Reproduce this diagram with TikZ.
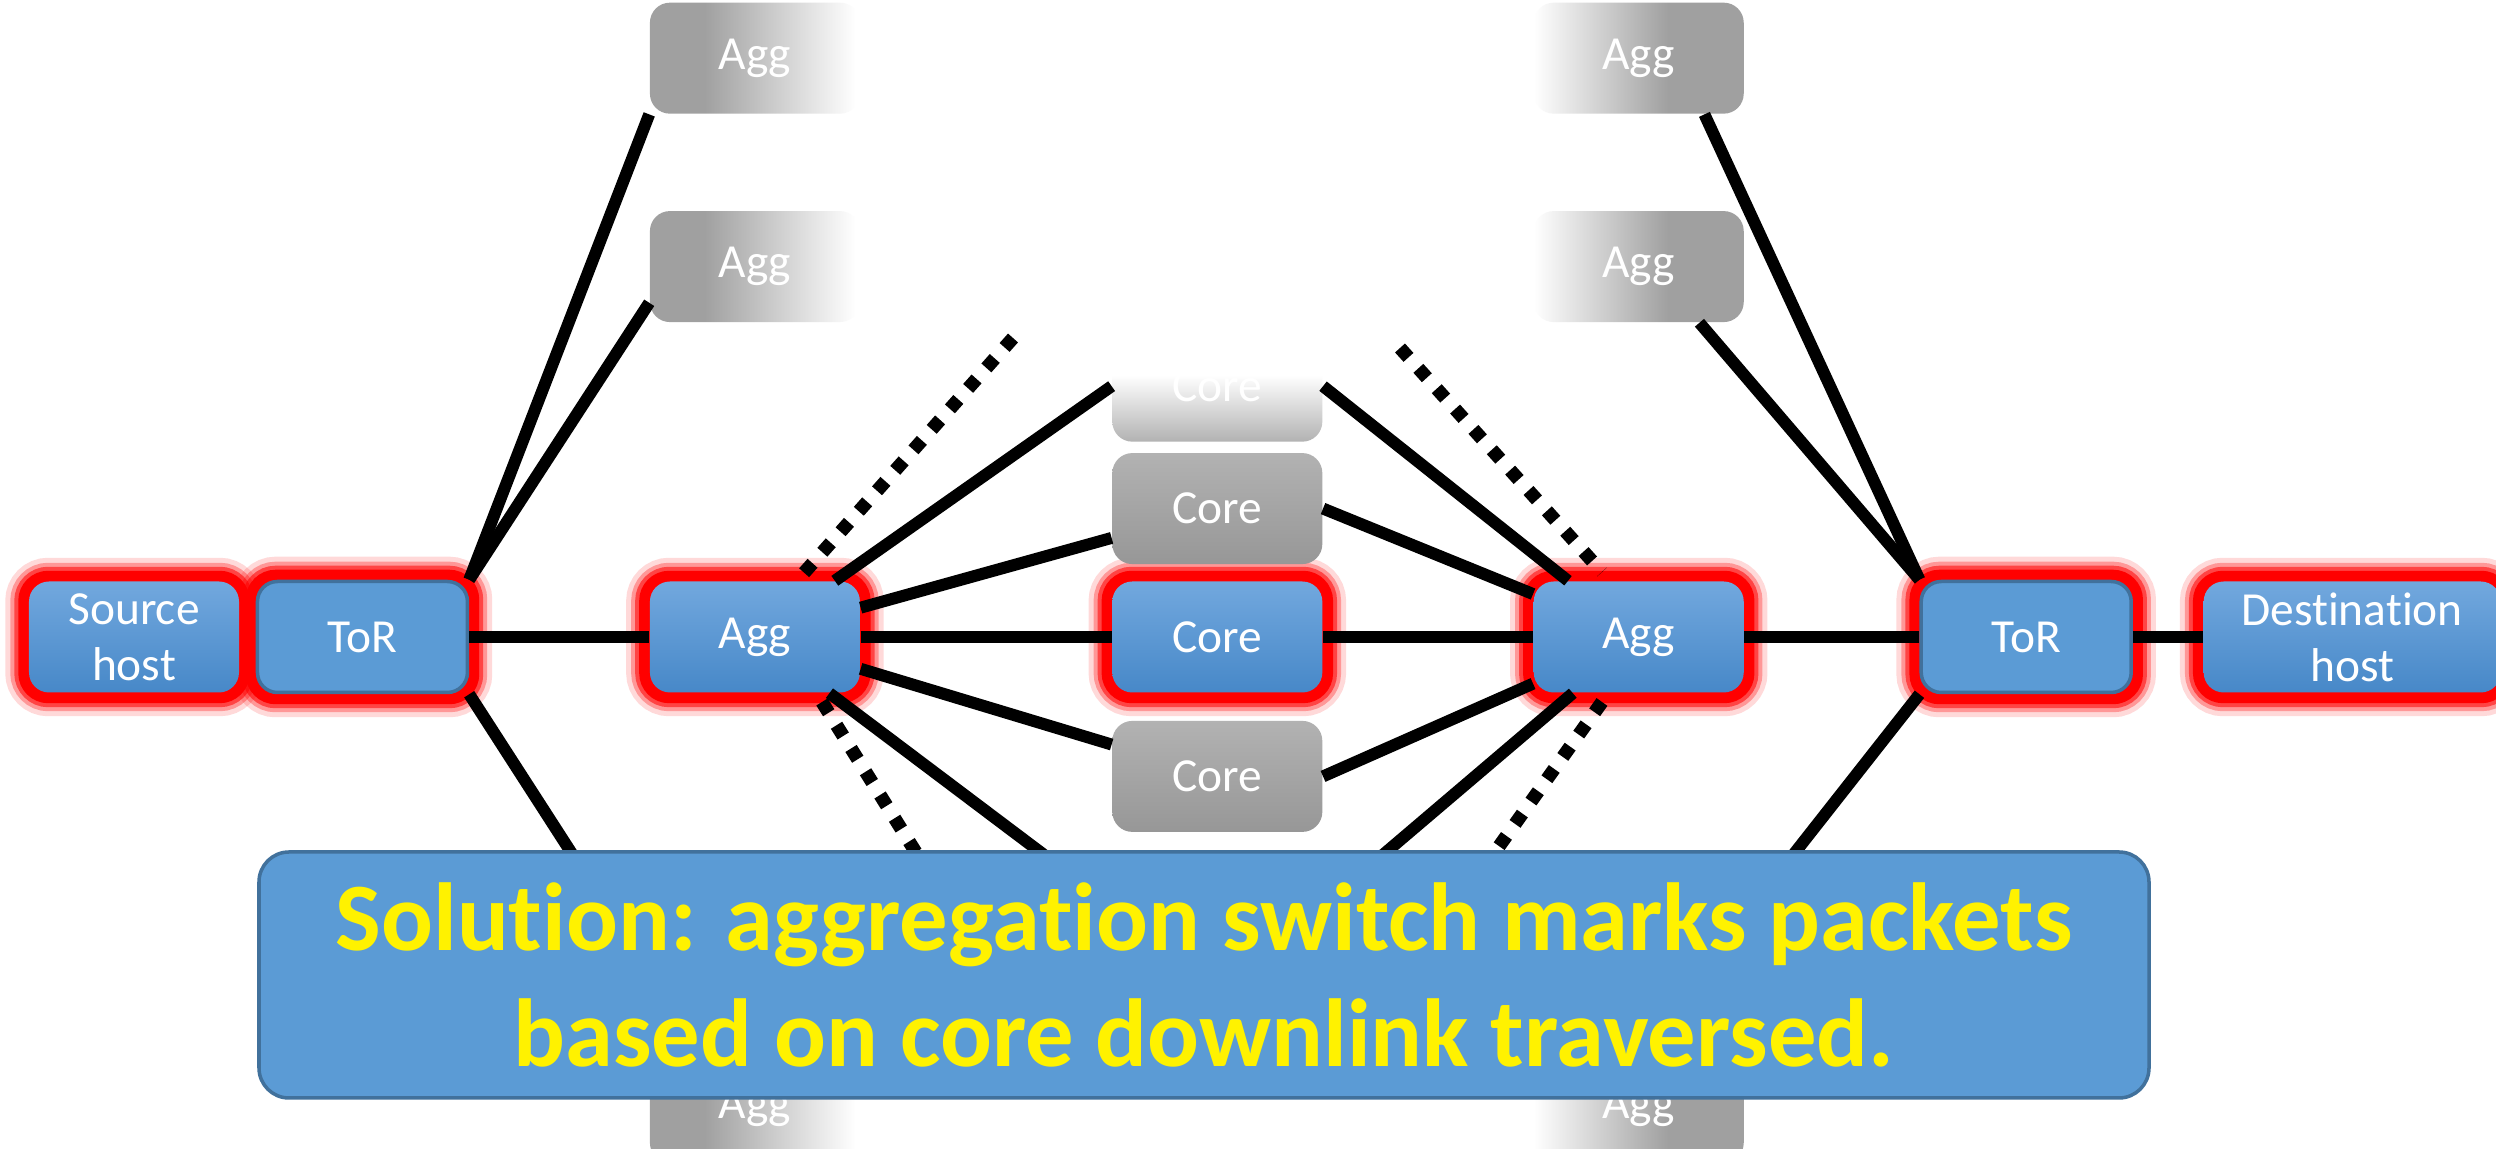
\documentclass[tikz,border=0pt]{standalone}
\usepackage{fontspec}
\setmainfont[Ligatures=NoCommon]{Carlito}
\usetikzlibrary{positioning}
\pgfdeclarelayer{background}
\pgfsetlayers{background,main}

\definecolor{bluetop}{HTML}{72A8DE}
\definecolor{bluebot}{HTML}{4788C8}
\definecolor{torblue}{HTML}{5B9BD5}
\definecolor{torline}{HTML}{41719C}
\definecolor{aggray}{HTML}{A0A0A0}
\definecolor{coretop}{HTML}{B2B2B2}
\definecolor{corebot}{HTML}{979797}

\pgfdeclarehorizontalshading{fadetoright}{100bp}{color(0bp)=(aggray); color(38bp)=(aggray); color(74bp)=(white); color(100bp)=(white)}
\pgfdeclarehorizontalshading{fadetoleft}{100bp}{color(0bp)=(white); color(25bp)=(white); color(57bp)=(aggray); color(100bp)=(aggray)}
\pgfdeclareverticalshading{corefade}{100bp}{color(0bp)=(coretop); color(25bp)=(coretop); color(55bp)=(white); color(100bp)=(white)}

\begin{document}
\begin{tikzpicture}[node distance=1cm,
    box/.style={rounded corners=0.2cm, minimum width=2.1cm, minimum height=1.11cm, inner sep=0pt,
                text=white, align=center, font=\fontsize{13.5}{16}\selectfont},
    hl/.style={box, top color=bluetop, bottom color=bluebot},
    torbox/.style={box, fill=torblue, draw=torline, line width=1pt},
    fadeR/.style={box, shade, shading=fadetoright},
    fadeL/.style={box, shade, shading=fadetoleft},
    coregray/.style={box, top color=coretop, bottom color=corebot},
    link/.style={line width=3.4pt},
    more/.style={line width=3.8pt, dash pattern=on 3.6pt off 4.2pt},
    glow/.style={draw=red, rounded corners=0.2cm},
    note/.style={fill=torblue, draw=torline, line width=1pt, rounded corners=0.3cm,
                 minimum width=18.9cm, minimum height=2.46cm, text=yellow, align=center,
                 font=\fontsize{27.5}{33}\selectfont\bfseries}]

  \useasboundingbox (0,0) rectangle (24.96,11.49);

  \node[hl](src) at (1.34,5.12) {Source\\host};
  \node[torbox](tor_l)[right=0.16cm of src] {ToR};
  \node[hl](agg_l)[right=1.8cm of tor_l] {Agg};
  \node[hl](core_m)[right=2.51cm of agg_l] {Core};
  \node[hl](agg_r)[right=2.1cm of core_m] {Agg};
  \node[torbox](tor_r)[right=1.75cm of agg_r] {ToR};
  \node[hl, minimum width=2.97cm](dst)[right=0.7cm of tor_r] {Destination\\host};

  \node[fadeR](agg_l2)[above=2.58cm of agg_l] {Agg};
  \node[fadeR](agg_l1)[above=0.96cm of agg_l2] {Agg};
  \node[fadeR](agg_l5)[below=3.58cm of agg_l] {Agg};
  \node[fadeL](agg_r2)[above=2.58cm of agg_r] {Agg};
  \node[fadeL](agg_r1)[above=0.96cm of agg_r2] {Agg};
  \node[fadeL](agg_r5)[below=3.58cm of agg_r] {Agg};

  \node[coregray](core_2)[above=0.16cm of core_m] {Core};
  \node[box, shade, shading=corefade](core_1)[above=0.1cm of core_2] {Core};
  \node[coregray](core_4)[below=0.27cm of core_m] {Core};
  \node[coregray](core_5)[below=0.17cm of core_4] {};

  \begin{pgfonlayer}{background}
    \fill[white] (0,0) rectangle (24.96,11.49);
    \foreach \n in {src,tor_l,agg_l,core_m,agg_r,tor_r,dst}{
      \draw[glow, line width=0.46cm, opacity=0.15] (\n.south west) rectangle (\n.north east);
      \draw[glow, line width=0.36cm, opacity=0.3] (\n.south west) rectangle (\n.north east);
      \draw[glow, line width=0.28cm, opacity=0.55] (\n.south west) rectangle (\n.north east);
      \draw[glow, line width=0.2cm] (\n.south west) rectangle (\n.north east);
    }
  \end{pgfonlayer}

  \path[link]
    (tor_l) edge (agg_l)
    (tor_l.north east) edge (agg_l1.south west)
    (tor_l.north east) edge ([yshift=2mm]agg_l2.south west)
    (tor_l.south east) edge ([xshift=5mm]agg_l5.north west)
    (agg_l) edge (core_1.west)
    (agg_l) edge (core_2)
    (agg_l) edge (core_m)
    (agg_l) edge (core_4)
    (agg_l) edge (core_5.west)
    (core_1.east) edge (agg_r)
    (core_2.east) edge (agg_r)
    (core_m) edge (agg_r)
    (core_4.east) edge (agg_r)
    (core_5.east) edge (agg_r)
    (agg_r) edge (tor_r)
    (tor_r) edge (dst)
    (tor_r.north west) edge ([xshift=-4mm]agg_r1.south east)
    (tor_r.north west) edge ([xshift=-4.5mm]agg_r2.south east)
    (tor_r.south west) edge (agg_r5.north);

  \coordinate (ul_a) at (10.13,8.11);
  \coordinate (ul_b) at (8.03,5.75);
  \coordinate (ll_a) at (8.22,4.47);
  \coordinate (ll_b) at (9.2,2.9);
  \coordinate (ur_a) at (14.0,8.01);
  \coordinate (ur_b) at (16.02,5.77);
  \coordinate (lr_a) at (16.02,4.47);
  \coordinate (lr_b) at (14.9,2.9);
  \draw[more] (ul_a) -- (ul_b);
  \draw[more] (ll_a) -- (ll_b);
  \draw[more] (ur_a) -- (ur_b);
  \draw[more] (lr_a) -- (lr_b);

  \node[note](sol) at (12.04,1.74) {Solution: aggregation switch marks packets\\based on core downlink traversed.};
\end{tikzpicture}
\end{document}
